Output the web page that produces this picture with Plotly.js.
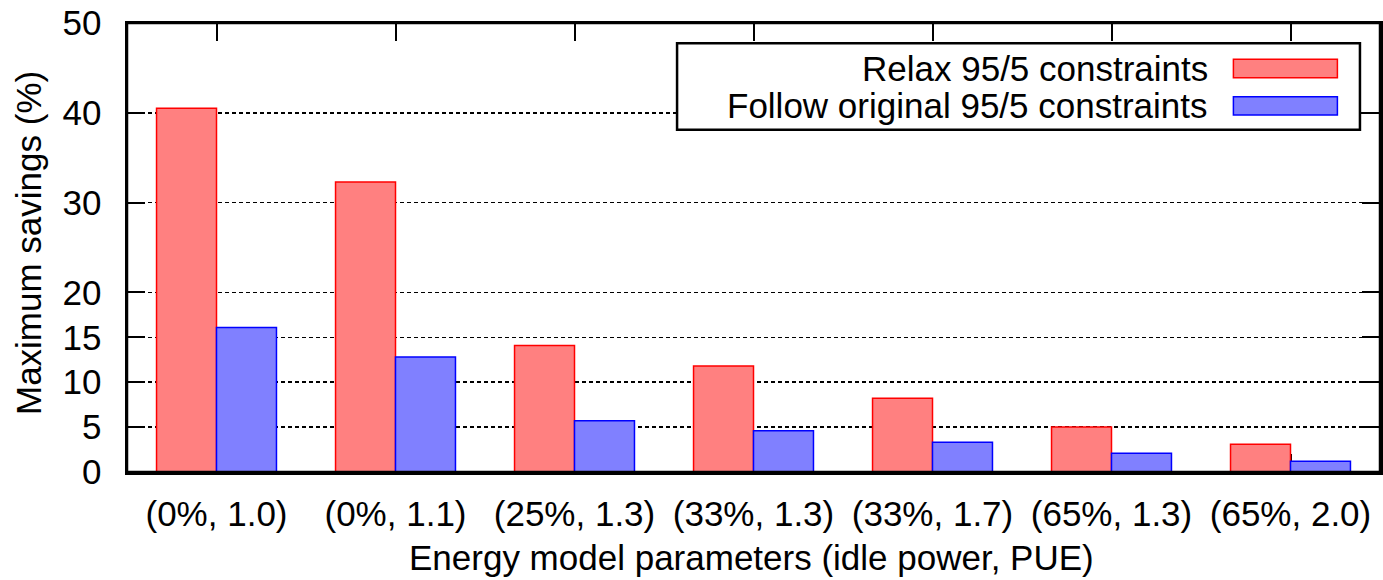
<!DOCTYPE html>
<html>
<head>
<meta charset="utf-8">
<script src="https://cdn.plot.ly/plotly-3.0.1.min.js"></script>
<style>html,body{margin:0;padding:0;background:#fff;}</style>
</head>
<body>
<div id="chart" style="width:1383px;height:580px;"></div>
<script>
const categories = ["(0%, 1.0)", "(0%, 1.1)", "(25%, 1.3)", "(33%, 1.3)", "(33%, 1.7)", "(65%, 1.3)", "(65%, 2.0)"];
const relaxValues = [40.5, 32.3, 14.1, 11.8, 8.2, 5.0, 3.1];
const followValues = [16.1, 12.8, 5.7, 4.6, 3.3, 2.1, 1.2];
const seriesNames = ["Relax 95/5 constraints", "Follow original 95/5 constraints"];
const yTicks = [0, 5, 10, 15, 20, 30, 40, 50];
const xTitle = "Energy model parameters (idle power, PUE)";
const yTitle = "Maximum savings (%)";

const FONT = "Liberation Sans, Arial, Helvetica, sans-serif";
const FS = 35;
const redFill = "#ff8080", redLine = "#ff0000";
const blueFill = "#8080ff", blueLine = "#0000ff";

const traces = [
  {type: "bar", x: categories, y: relaxValues, name: seriesNames[0],
   marker: {color: redFill, line: {color: redLine, width: 1.5}}, hoverinfo: "none"},
  {type: "bar", x: categories, y: followValues, name: seriesNames[1],
   marker: {color: blueFill, line: {color: blueLine, width: 1.5}}, hoverinfo: "none"}
];

const layout = {
  width: 1383, height: 580,
  margin: {l: 127, r: 3, t: 23, b: 108, pad: 0},
  paper_bgcolor: "#fff", plot_bgcolor: "#fff",
  showlegend: false,
  barmode: "group", bargap: 0.33, bargroupgap: 0,
  font: {family: FONT, size: FS, color: "#000"},
  xaxis: {
    type: "category", range: [-0.5, 6.5],
    showline: true, linecolor: "#000", linewidth: 2.5, mirror: "ticks",
    ticks: "inside", ticklen: 18, tickwidth: 2, tickcolor: "#000",
    showgrid: false, zeroline: false, layer: "below traces",
    tickfont: {family: FONT, size: FS, color: "#000"},
    ticklabelstandoff: 9
  },
  yaxis: {
    range: [0, 50], tickvals: yTicks, ticktext: yTicks.map(String),
    showline: true, linecolor: "#000", linewidth: 2.5, mirror: "ticks",
    ticks: "inside", ticklen: 18, tickwidth: 2, tickcolor: "#000",
    showgrid: true, gridcolor: "#000", gridwidth: 1.5, griddash: "4px,3px",
    zeroline: false, layer: "below traces",
    tickfont: {family: FONT, size: FS, color: "#000"},
    ticklabelstandoff: 16
  },
  shapes: [
    {type: "rect", xref: "paper", yref: "paper", x0: 0, x1: 1, y0: 0, y1: 1,
     line: {color: "#000", width: 2.5}, layer: "above"},
    {type: "rect", xref: "paper", yref: "paper", x0: 0.439, x1: 0.984, y0: 0.762, y1: 0.955,
     line: {color: "#000", width: 2.5}, fillcolor: "#fff", layer: "above"},
    {type: "rect", xref: "paper", yref: "paper", x0: 0.883, x1: 0.966, y0: 0.878, y1: 0.919,
     line: {color: redLine, width: 1.5}, fillcolor: redFill, layer: "above"},
    {type: "rect", xref: "paper", yref: "paper", x0: 0.883, x1: 0.966, y0: 0.795, y1: 0.836,
     line: {color: blueLine, width: 1.5}, fillcolor: blueFill, layer: "above"}
  ],
  annotations: [
    {xref: "paper", yref: "paper", x: 0.864, y: 0.899, xanchor: "right", yanchor: "middle",
     text: seriesNames[0], showarrow: false, font: {family: FONT, size: FS, color: "#000"}},
    {xref: "paper", yref: "paper", x: 0.864, y: 0.816, xanchor: "right", yanchor: "middle",
     text: seriesNames[1], showarrow: false, font: {family: FONT, size: FS, color: "#000"}},
    {xref: "paper", yref: "paper", x: 0.4985, y: -0.190, xanchor: "center", yanchor: "middle",
     text: xTitle, showarrow: false, font: {family: FONT, size: FS, color: "#000"}},
    {xref: "paper", yref: "paper", x: -0.079, y: 0.51, xanchor: "center", yanchor: "middle",
     text: yTitle, textangle: -90, showarrow: false, font: {family: FONT, size: FS, color: "#000"}}
  ]
};

Plotly.newPlot("chart", traces, layout, {displayModeBar: false, staticPlot: true});
</script>
</body>
</html>
